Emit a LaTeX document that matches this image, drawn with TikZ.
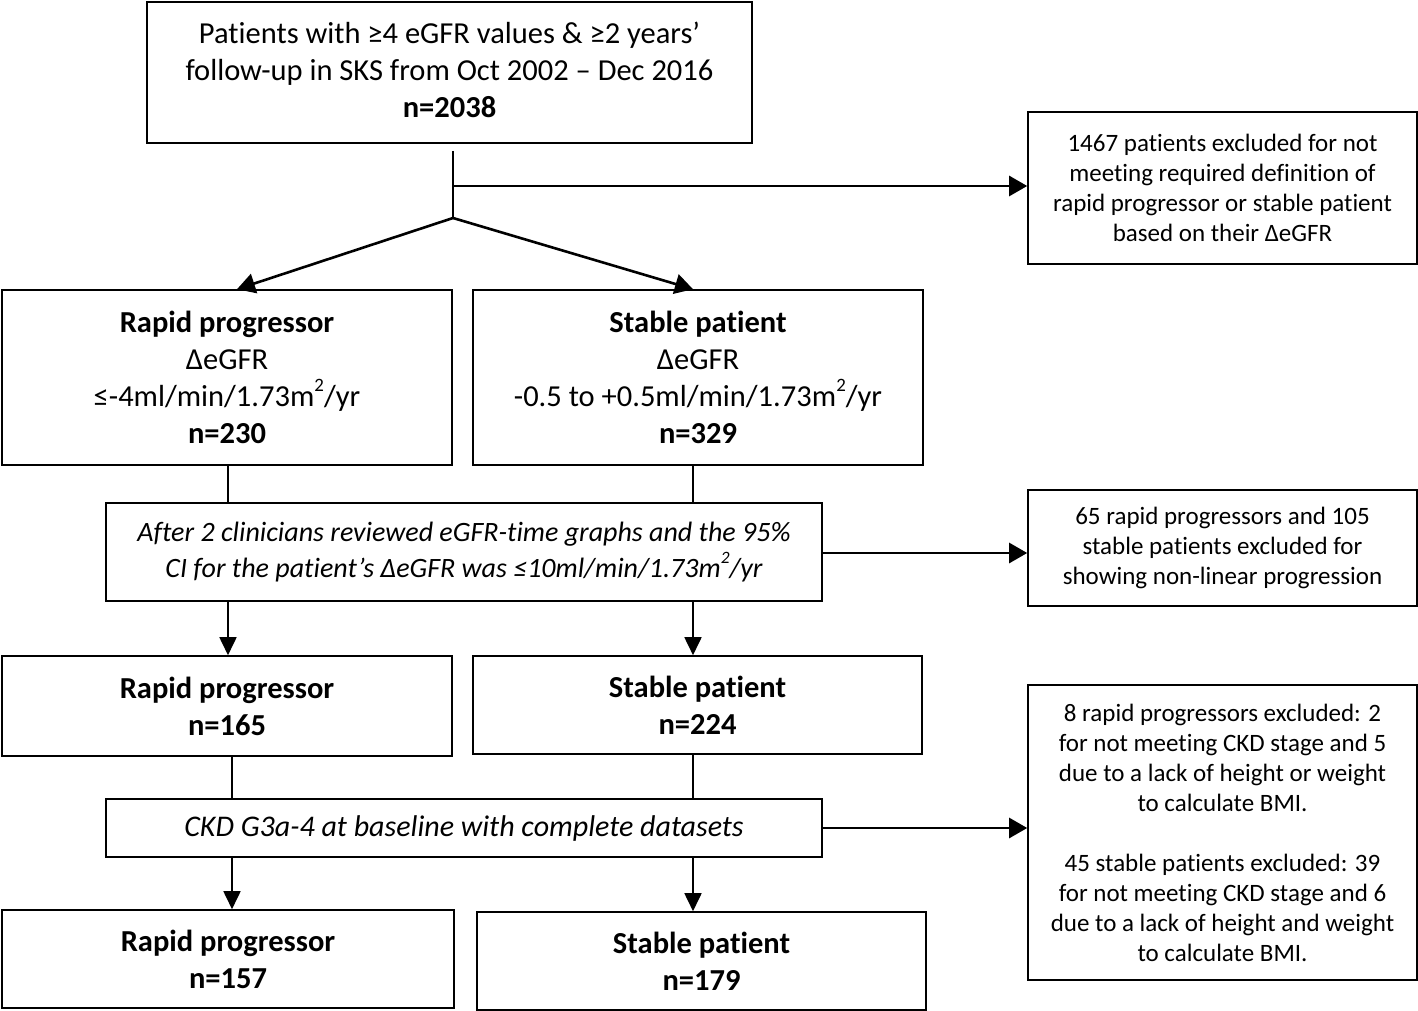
\documentclass[tikz,border=0pt]{standalone}
\usepackage{fontspec}
\usepackage{graphicx}
\setmainfont{Carlito}[Ligatures={NoCommon}]
\usetikzlibrary{arrows.meta}
\newcommand\mysup[1]{\raisebox{0.5em}{\scalebox{0.62}{#1}}}
\begin{document}
\begin{tikzpicture}[x=1pt,y=-1pt,
  box/.style={draw,line width=1.6pt,align=center,inner sep=0pt,font=\fontsize{30.5}{37}\selectfont},
  sbox/.style={draw,line width=1.6pt,align=center,inner sep=0pt,font=\fontsize{25}{30}\selectfont},
  conn/.style={line width=1.6pt},
  arr/.style={line width=2.6pt,-{Triangle[length=18pt,width=20pt]}},
  varr/.style={line width=1.8pt,-{Triangle[length=18pt,width=17pt]}}]
\useasboundingbox (0,0) rectangle (1418,1011);
% main column
\node[box,minimum width=605pt,minimum height=141pt,text depth=5pt] (top) at (449.5,72.5)
  {Patients with ≥4 eGFR values \& ≥2 years’\\follow-up in SKS from Oct 2002 – Dec 2016\\\textbf{n=2038}};
\node[box,minimum width=450pt,minimum height=175pt] (rp1) at (227,377.5)
  {\textbf{Rapid progressor}\\ΔeGFR\\≤-4ml/min/1.73m\mysup{2}/yr\\\textbf{n=230}};
\node[box,minimum width=450pt,minimum height=175pt] (sp1) at (698,377.5)
  {\textbf{Stable patient}\\ΔeGFR\\-0.5 to +0.5ml/min/1.73m\mysup{2}/yr\\\textbf{n=329}};
\node[box,minimum width=716pt,minimum height=98pt,font=\fontsize{28}{36}\selectfont] (rev) at (464,552)
  {\itshape After 2 clinicians reviewed eGFR-time graphs and the 95\%\\\itshape CI for the patient’s ΔeGFR was ≤10ml/min/1.73m\mysup{2}/yr};
\node[box,minimum width=450pt,minimum height=100pt] (rp2) at (227,706)
  {\textbf{Rapid progressor}\\\textbf{n=165}};
\node[box,minimum width=449pt,minimum height=98pt] (sp2) at (697.5,705)
  {\textbf{Stable patient}\\\textbf{n=224}};
\node[box,minimum width=716pt,minimum height=58pt,font=\fontsize{30}{36}\selectfont] (ckd) at (464,828)
  {\itshape CKD G3a-4 at baseline with complete datasets};
\node[box,minimum width=452pt,minimum height=98pt] (rp3) at (228,959)
  {\textbf{Rapid progressor}\\\textbf{n=157}};
\node[box,minimum width=449pt,minimum height=98pt] (sp3) at (701.5,961)
  {\textbf{Stable patient}\\\textbf{n=179}};
% exclusion boxes
\node[sbox,minimum width=389pt,minimum height=152pt] (ex1) at (1222.5,188)
  {1467 patients excluded for not\\meeting required definition of\\rapid progressor or stable patient\\based on their ΔeGFR};
\node[sbox,minimum width=389pt,minimum height=116pt] (ex2) at (1222.5,548)
  {65 rapid progressors and 105\\stable patients excluded for\\showing non-linear progression};
\node[sbox,minimum width=389pt,minimum height=295pt] (ex3) at (1222.5,832.5)
  {8 rapid progressors excluded: 2\\for not meeting CKD stage and 5\\due to a lack of height or weight\\to calculate BMI.\\[30pt]45 stable patients excluded: 39\\for not meeting CKD stage and 6\\due to a lack of height and weight\\to calculate BMI.};
% connectors
\coordinate (j1) at (453,186);
\coordinate (j2) at (453,218);
\draw[conn] ([yshift=-7pt]top.south -| j1) -- (j2);
\draw[arr] (j1) -- (j1 -| ex1.west);
\draw[arr] (j2) -- ([xshift=10pt]rp1.north);
\draw[arr] (j2) -- ([xshift=-5pt]sp1.north);
\draw[conn] ([xshift=1pt]rp1.south) -- ([xshift=1pt]rp1.south |- rev.north);
\draw[conn] ([xshift=-5pt]sp1.south) -- ([xshift=-5pt]sp1.south |- rev.north);
\draw[arr] ([yshift=-1pt]rev.east) -- ([yshift=-1pt]rev.east -| ex2.west);
\draw[varr] ([xshift=1pt]rp1.south |- rev.south) -- ([xshift=1pt]rp2.north);
\draw[varr] ([xshift=-5pt]sp1.south |- rev.south) -- ([xshift=-5pt]sp1.south |- sp2.north);
\draw[conn] ([xshift=5pt]rp2.south) -- ([xshift=5pt]rp2.south |- ckd.north);
\draw[conn] ([xshift=-4.5pt]sp2.south) -- ([xshift=-4.5pt]sp2.south |- ckd.north);
\draw[arr] (ckd.east) -- (ckd.east -| ex3.west);
\draw[varr] ([xshift=5pt]rp2.south |- ckd.south) -- ([xshift=5pt]rp2.south |- rp3.north);
\draw[varr] ([xshift=-4.5pt]sp2.south |- ckd.south) -- ([xshift=-4.5pt]sp2.south |- sp3.north);
\end{tikzpicture}
\end{document}
